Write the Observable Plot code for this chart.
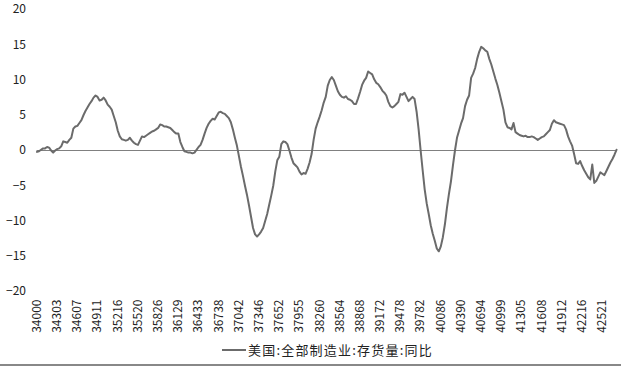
<!DOCTYPE html>
<html>
<head>
<meta charset="utf-8">
<script src="https://cdn.jsdelivr.net/npm/d3@7"></script>
<script src="https://cdn.jsdelivr.net/npm/@observablehq/plot@0.6"></script>
<style>
  html, body { margin: 0; padding: 0; background: #fff; }
  #wrap { position: relative; width: 621px; height: 368px; overflow: hidden; font-family: "Noto Sans CJK SC", "DejaVu Sans", sans-serif; }
  #legend { position: absolute; left: 222px; top: 340px; display: flex; align-items: center; font-size: 13px; color: #222; letter-spacing: 1.2px; }
  #legend .sw { width: 24px; height: 2px; background: #6b6b6b; margin-right: 2px; }
  #bottomline { position: absolute; left: 0; top: 364px; width: 621px; height: 2px; background: #888; }
</style>
</head>
<body>
<div id="wrap">
  <div id="chart"></div>
  <div id="legend"><span class="sw"></span><span id="legendText"></span></div>
  <div id="bottomline"></div>
</div>
<script>
// Series name
const seriesName = "美国:全部制造业:存货量:同比";

// Monthly YoY values (%), Jan 1993 – Dec 2016, one row per year
const values = [
  -0.2, -0.1, 0.1, 0.3, 0.3, 0.5, 0.4, 0.0, -0.3, 0.0, 0.2, 0.3,        // 1993
  0.6, 1.3, 1.2, 1.1, 1.5, 1.8, 3.1, 3.4, 3.5, 3.9, 4.3, 5.0,           // 1994
  5.6, 6.1, 6.6, 7.0, 7.5, 7.8, 7.6, 7.1, 7.2, 7.5, 7.1, 6.5,           // 1995
  6.2, 5.8, 4.9, 4.0, 2.8, 2.0, 1.6, 1.5, 1.4, 1.5, 1.8, 1.4,           // 1996
  1.1, 0.9, 0.8, 1.4, 2.0, 1.9, 2.1, 2.3, 2.5, 2.7, 2.8, 3.0,           // 1997
  3.2, 3.7, 3.6, 3.4, 3.4, 3.3, 3.2, 2.9, 2.6, 2.4, 2.4, 1.2,           // 1998
  0.5, -0.1, -0.2, -0.3, -0.3, -0.4, -0.3, 0.1, 0.5, 0.8, 1.5, 2.4,     // 1999
  3.2, 3.8, 4.2, 4.5, 4.4, 4.9, 5.4, 5.5, 5.3, 5.2, 4.9, 4.6,           // 2000
  4.0, 3.0, 1.8, 0.7, -0.8, -2.3, -3.6, -5.0, -6.3, -7.8, -9.4, -11.0,  // 2001
  -11.9, -12.2, -11.9, -11.5, -11.0, -10.0, -9.0, -7.7, -6.4, -5.0, -3.0, -1.4, // 2002
  -0.9, 0.9, 1.3, 1.2, 0.9, 0.0, -1.0, -1.8, -2.1, -2.4, -3.0, -3.4,    // 2003
  -3.2, -3.3, -2.6, -1.7, -0.5, 1.5, 3.1, 4.0, 4.8, 5.7, 6.8, 7.6,      // 2004
  9.2, 10.0, 10.4, 10.0, 9.2, 8.4, 7.9, 7.6, 7.5, 7.7, 7.3, 7.2,        // 2005
  7.0, 6.6, 6.6, 7.4, 8.3, 9.3, 9.9, 10.3, 11.2, 11.0, 10.8, 10.1,      // 2006
  9.6, 9.4, 9.0, 8.5, 8.2, 7.8, 6.9, 6.3, 6.1, 6.3, 6.6, 6.9,           // 2007
  8.0, 7.9, 8.2, 7.6, 7.0, 7.3, 7.6, 7.3, 5.5, 3.0, 0.0, -2.8,          // 2008
  -5.5, -7.5, -9.0, -10.6, -11.8, -12.8, -13.9, -14.3, -13.6, -12.3, -10.5, -8.2, // 2009
  -6.2, -4.4, -2.1, 0.0, 1.8, 2.8, 3.8, 4.6, 6.3, 7.2, 7.8, 10.3,       // 2010
  10.9, 11.7, 13.0, 14.0, 14.7, 14.5, 14.2, 14.0, 13.0, 12.2, 11.2, 10.2, // 2011
  9.3, 8.2, 7.0, 5.8, 4.0, 3.3, 3.2, 3.0, 3.9, 2.6, 2.4, 2.2,           // 2012
  2.1, 2.0, 2.1, 1.9, 1.9, 2.0, 1.9, 1.7, 1.5, 1.7, 1.9, 2.0,           // 2013
  2.3, 2.6, 2.9, 3.8, 4.3, 4.0, 3.9, 3.8, 3.7, 3.6, 3.0, 2.0,           // 2014
  1.3, 0.7, -0.5, -1.8, -1.9, -1.5, -2.2, -2.8, -3.3, -3.8, -4.1, -2.0, // 2015
  -4.6, -4.3, -3.7, -3.1, -3.3, -3.5, -2.9, -2.3, -1.7, -1.2, -0.6, 0.1  // 2016
];

// X tick labels (Excel date serials), one label every 10 months
const xTickLabels = [
  "34000", "34303", "34607", "34911", "35216", "35520", "35826", "36129", "36433", "36738",
  "37042", "37346", "37652", "37955", "38260", "38564", "38868", "39172", "39478", "39782",
  "40086", "40390", "40694", "40999", "41305", "41608", "41912", "42216", "42521"
];
const labelEvery = 10;

// Y ticks
const yTicks = [-20, -15, -10, -5, 0, 5, 10, 15, 20];

const data = values.map((v, i) => ({i, v}));
const xTicks = xTickLabels.map((_, k) => k * labelEvery);

const chart = Plot.plot({
  width: 621,
  height: 340,
  marginLeft: 36.5,
  marginRight: 5,
  marginTop: 9,
  marginBottom: 49,
  style: {fontFamily: "'Noto Sans CJK SC', 'DejaVu Sans', sans-serif", fontSize: "12px", color: "#222", background: "#fff"},
  x: {domain: [0, values.length - 1]},
  y: {domain: [-20, 20]},
  marks: [
    Plot.ruleY([0], {stroke: "#808080", strokeWidth: 1.2}),
    Plot.lineY(data, {x: "i", y: "v", stroke: "#6b6b6b", strokeWidth: 2}),
    Plot.axisY(yTicks, {anchor: "left", tickSize: 0, tickPadding: 11, label: null, fontSize: 12}),
    Plot.axisX(xTicks, {anchor: "bottom", tickSize: 0, tickPadding: 8, tickRotate: -90, label: null,
      tickFormat: d => xTickLabels[d / labelEvery], fontSize: 12})
  ]
});
document.getElementById("chart").appendChild(chart);
document.getElementById("legendText").textContent = seriesName;
</script>
</body>
</html>
